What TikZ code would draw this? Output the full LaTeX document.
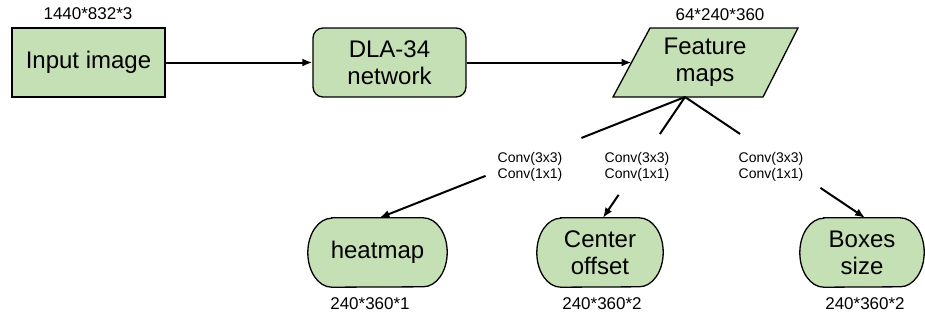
\documentclass[tikz,border=0pt]{standalone}
\usepackage{fontspec}
\setmainfont{Liberation Sans}
\usetikzlibrary{arrows.meta,calc,backgrounds}
\definecolor{boxgreen}{HTML}{C5E0B4}
\newcommand\termoutline[1]{%
  \draw[line width=1.3pt, fill=boxgreen]
    ($(#1.north west)+(24,0)$) -- ($(#1.north east)+(-24,0)$)
    arc[start angle=90, end angle=-90, x radius=24pt, y radius=34.5pt]
    -- ($(#1.south west)+(24,0)$)
    arc[start angle=270, end angle=90, x radius=24pt, y radius=34.5pt]
    -- cycle;}
\begin{document}
\begin{tikzpicture}[x=1pt,y=-1pt,
  box/.style={draw=black, line width=1.3pt, fill=boxgreen, inner sep=0pt, align=center, font=\fontsize{24}{27}\selectfont},
  termbox/.style={inner sep=0pt, align=center, font=\fontsize{24}{27}\selectfont, minimum height=69pt},
  dim/.style={font=\fontsize{17}{20}\selectfont, inner sep=0pt},
  conv/.style={font=\fontsize{14}{16}\selectfont, align=center, inner sep=0pt},
  conn/.style={line width=2pt},
  arr/.style={line width=2pt, -{Latex[length=10pt,width=8pt]}},
]
\useasboundingbox (0,0) rectangle (925,327);

% top row
\node[box, minimum width=153pt, minimum height=69pt] (in) at (88.5,62.5) {Input image};
\node[box, rounded corners=10pt, minimum width=153pt, minimum height=69pt] (dla) at (389.5,62.5) {DLA-34\\network};
\coordinate (p1) at (650,28);
\coordinate (p2) at (798,28);
\coordinate (p3) at (763,97);
\coordinate (p4) at (613,97);
\draw[line width=1.3pt, fill=boxgreen] (p1) -- (p2) -- (p3) -- (p4) -- cycle;
\node[font=\fontsize{24}{27}\selectfont, align=center, inner sep=0pt] (fm) at (705,62.5) {Feature\\maps};
\coordinate (fmw) at (631.5,62.5);
\coordinate (fmb) at (685,97);

\node[dim] (d1) at (88,14) {1440*832*3};
\node[dim] (d2) at (720,15) {64*240*360};

% bottom row
\node[termbox, minimum width=139pt] (hm) at (377.5,252.5) {heatmap};
\node[termbox, minimum width=126pt] (co) at (600,252.5) {Center\\offset};
\node[termbox, minimum width=124pt] (bs) at (862,252.5) {Boxes\\size};
\begin{pgfonlayer}{background}
\termoutline{hm}
\termoutline{co}
\termoutline{bs}
\end{pgfonlayer}

\node[dim] (d3) at (370,304) {240*360*1};
\node[dim] (d4) at (602,304) {240*360*2};
\node[dim] (d5) at (865,304) {240*360*2};

% top connectors
\draw[arr] (in.east) -- (dla.west);
\draw[arr] (dla.east) -- (fmw);

% branch connectors
\coordinate (t1) at ($(hm.north)+(2,0)$);
\coordinate (t2) at ($(co.north)+(3,0)$);
\coordinate (t3) at ($(bs.north)+(3,0)$);
\coordinate (a1) at ($(fmb)!0.339!(t1)$);
\coordinate (b1) at ($(fmb)!0.653!(t1)$);
\coordinate (a2) at ($(fmb)!0.306!(t2)$);
\coordinate (b2) at ($(fmb)!0.81!(t2)$);
\coordinate (a3) at ($(fmb)!0.306!(t3)$);
\coordinate (b3) at ($(fmb)!0.752!(t3)$);

\draw[conn] (fmb) -- (a1);
\draw[arr] (b1) -- (t1);
\draw[conn] (fmb) -- (a2);
\draw[arr] (b2) -- (t2);
\draw[conn] (fmb) -- (a3);
\draw[arr] (b3) -- (t3);

\node[conv] (c1) at (530,167) {Conv(3x3)\\Conv(1x1)};
\node[conv] (c2) at (637,167) {Conv(3x3)\\Conv(1x1)};
\node[conv] (c3) at (771,167) {Conv(3x3)\\Conv(1x1)};
\end{tikzpicture}
\end{document}
